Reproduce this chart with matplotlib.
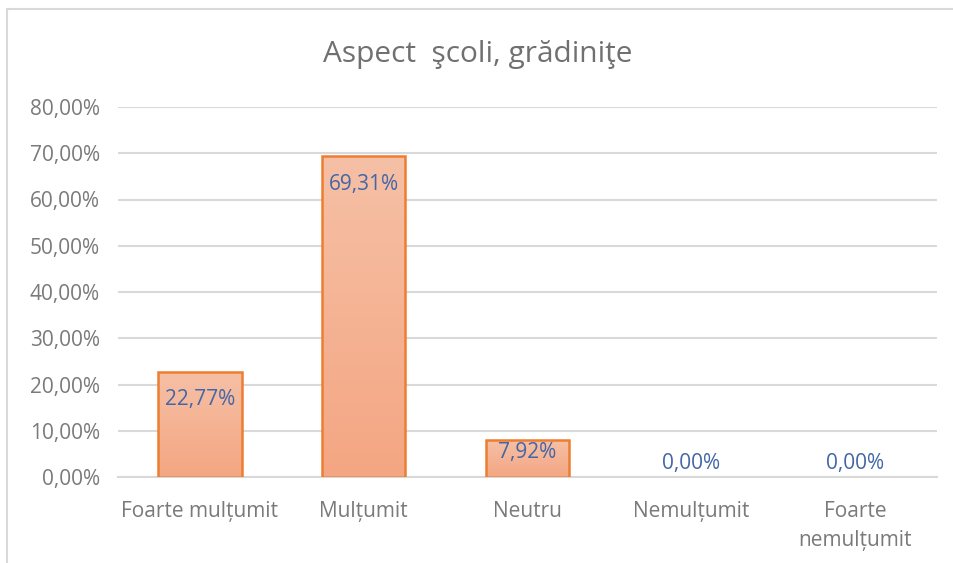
import numpy as np
import matplotlib
matplotlib.use("Agg")
import matplotlib.pyplot as plt
from matplotlib.patches import Rectangle
from matplotlib.colors import LinearSegmentedColormap

plt.rcParams['font.family'] = ['Open Sans', 'DejaVu Sans']

title = "Aspect  şcoli, grădiniţe"
categories = ["Foarte mulțumit", "Mulțumit", "Neutru", "Nemulțumit", "Foarte\nnemulțumit"]
values = [22.77, 69.31, 7.92, 0.00, 0.00]
yticks = [0, 10, 20, 30, 40, 50, 60, 70, 80]

gray_txt = '#7a7a7a'
label_blue = '#4466a6'
edge_orange = '#ED7D31'
grad = LinearSegmentedColormap.from_list('peach', ['#F4A682', '#F6C0A6'])

fig = plt.figure(figsize=(9.54, 5.63), dpi=100)
# chart frame
fig.patches.append(Rectangle((7 / 954, -0.1), 1.1, 1 - 9 / 563 + 0.1, transform=fig.transFigure,
                             fill=False, edgecolor='#d9d9d9', linewidth=1.5))

ax = fig.add_axes([118 / 954, 1 - 477 / 563, (937 - 118) / 954, (477 - 107) / 563])
x = np.arange(len(categories))
bars = ax.bar(x, values, width=0.51, color='none', edgecolor=edge_orange, linewidth=1.8, zorder=3)

# gradient fill inside each bar
gimg = np.linspace(0, 1, 256).reshape(-1, 1)
for b in bars:
    if b.get_height() <= 0:
        b.set_linewidth(0)
        continue
    x0, w, h = b.get_x(), b.get_width(), b.get_height()
    im = ax.imshow(gimg, extent=[x0, x0 + w, 0, h], origin='lower', cmap=grad,
                   aspect='auto', zorder=2)
    im.set_clip_path(b)

ax.set_xlim(-0.5, len(categories) - 0.5)
ax.set_ylim(0, 80)
ax.set_yticks(yticks)
ax.set_yticklabels([f"{t:.2f}%".replace('.', ',') for t in yticks])
ax.set_xticks(x)
ax.set_xticklabels(categories, linespacing=1.55)
ax.grid(axis='y', color='#d9d9d9', linewidth=1.5, zorder=0)
ax.set_axisbelow(True)
for s in ['top', 'right', 'left']:
    ax.spines[s].set_visible(False)
ax.spines['bottom'].set_color('#d9d9d9')
ax.spines['bottom'].set_linewidth(1.5)
ax.tick_params(axis='both', length=0, labelsize=15, labelcolor=gray_txt)
ax.tick_params(axis='y', pad=13)
ax.tick_params(axis='x', pad=17)

px_per_unit = (477 - 107) / 80
for xi, v in zip(x, values):
    h = v * px_per_unit
    if v > 0:
        off = -min(28, h * 0.33)
    else:
        off = 13
    ax.annotate(f"{v:.2f}%".replace('.', ','), (xi, v), xytext=(0, off),
                textcoords='offset pixels', ha='center', va='center',
                fontsize=15, color=label_blue, zorder=5)

fig.text(478 / 954, 1 - 62 / 563, title, ha='center', va='baseline', fontsize=21.5, color='#707070')

fig.savefig('out.png', dpi=100)
